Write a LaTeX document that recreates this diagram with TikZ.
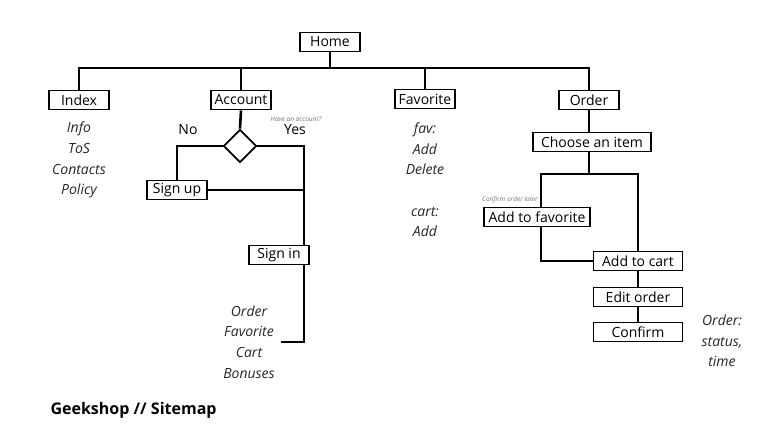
\documentclass[tikz,border=0pt]{standalone}
\usepackage{fontspec}
\setmainfont{Open Sans}
\usetikzlibrary{shapes.geometric}

\begin{document}
\begin{tikzpicture}[x=1pt,y=-1pt,
    font=\fontsize{14}{16}\selectfont,
    page/.style={rectangle,draw,line width=1.9pt,inner sep=0pt,minimum height=19pt},
    list/.style={align=center,font=\itshape\fontsize{14}{20.7}\selectfont,text=black!85},
    hint/.style={font=\itshape\fontsize{6.5}{7}\selectfont,text=black!55},
    link/.style={line width=2.6pt},
    ]
    \useasboundingbox (0,0) rectangle (781,440);
    % top level
    \node[page,minimum width=60pt] (home) at (330,42) {Home};
    \node[page,minimum width=60pt] (index) at (79,100) {Index};
    \node[page,minimum width=60pt] (account) at (241,100) {Account};
    \node[page,minimum width=60pt] (favorite) at (425,99) {Favorite};
    \node[page,minimum width=60pt] (order) at (589,100) {Order};
    \coordinate (bus) at (0,68);
    \draw[link] (index.north) -- (index.north |- bus) -- (order.north |- bus) -- (order.north);
    \draw[link] (home.south) -- (home.south |- bus);
    \draw[link] (account.north) -- (account.north |- bus);
    \draw[link] (favorite.north) -- (favorite.north |- bus);
    % index
    \node[list] (indexlist) at (79,160) {Info\\ToS\\Contacts\\Policy};
    % account
    \node[diamond,draw,line width=1.9pt,aspect=1,inner sep=0pt,minimum width=33pt,minimum height=33pt] (ask) at (240,146) {};
    \node[page,minimum width=60pt] (signup) at (177,190) {Sign up};
    \node[page,minimum width=60pt] (signin) at (279,255) {Sign in};
    \node (no) at (188,130) {No};
    \node (yes) at (295,130) {Yes};
    \node[hint] (askhint) at (296,119) {Have an account?};
    \node[list] (signinlist) at (249,342) {Order\\Favorite\\Cart\\Bonuses};
    \coordinate (yesline) at (304,0);
    \coordinate (listend) at (281,342);
    \draw[link] (account.south) -- (ask.north);
    \draw[link] (ask.west) -| (signup.north);
    \draw[link] (ask.east) -| (yesline |- signin.north);
    \draw[link] (signup.east) -- (yesline |- signup.east);
    \draw[link] (yesline |- signin.south) |- (listend);
    % favorite
    \node[list] (favlist) at (425,149) {fav:\\Add\\Delete};
    \node[list] (cartlist) at (425,222) {cart:\\Add};
    % order
    \node[page,minimum width=118pt] (choose) at (592,142) {Choose an item};
    \node[page,minimum width=106pt] (addfav) at (537,217) {Add to favorite};
    \node[page,minimum width=89pt] (addcart) at (638,261) {Add to cart};
    \node[page,minimum width=89pt] (edit) at (638,297) {Edit order};
    \node[page,minimum width=89pt] (confirm) at (638,332) {Confirm};
    \node[hint] (favhint) at (510,200) {Confirm order later};
    \node[list] (orderlist) at (722,341) {Order:\\status,\\time};
    \coordinate (split) at (0,174);
    \coordinate (favline) at (541,0);
    \draw[link] (order.south) -- (choose.north -| order.south);
    \draw[link] (choose.south -| order.south) -- (order.south |- split);
    \draw[link] (favline |- addfav.north) |- (addcart.north |- split) -- (addcart.north);
    \draw[link] (favline |- addfav.south) |- (addcart.west);
    \draw[link] (addcart) -- (edit);
    \draw[link] (edit) -- (confirm);
    % title
    \node[anchor=west,font=\bfseries\fontsize{16}{18}\selectfont] (title) at (47,410) {Geekshop // Sitemap};
\end{tikzpicture}
\end{document}
